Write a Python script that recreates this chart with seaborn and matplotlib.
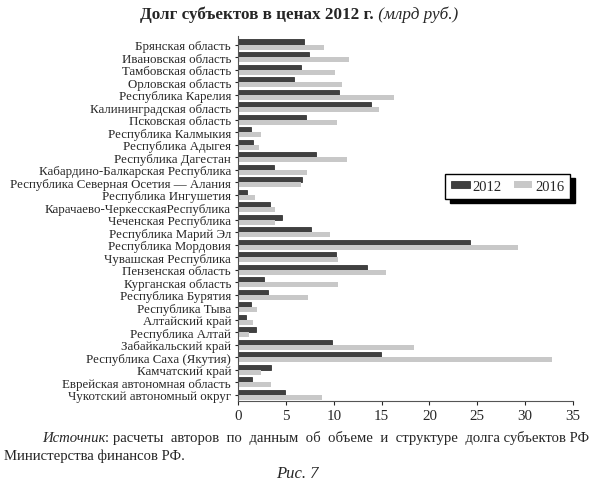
import pandas as pd
import matplotlib.pyplot as plt
import seaborn as sns
from matplotlib.patches import Patch

# Регионы (сверху вниз) и долг в ценах 2012 г., млрд руб.
regions = [
    'Брянская область', 'Ивановская область', 'Тамбовская область', 'Орловская область',
    'Республика Карелия', 'Калининградская область', 'Псковская область',
    'Республика Калмыкия', 'Республика Адыгея', 'Республика Дагестан',
    'Кабардино-Балкарская Республика', 'Республика Северная Осетия — Алания',
    'Республика Ингушетия', 'Карачаево-ЧеркесскаяРеспублика', 'Чеченская Республика',
    'Республика Марий Эл', 'Республика Мордовия', 'Чувашская Республика',
    'Пензенская область', 'Курганская область', 'Республика Бурятия', 'Республика Тыва',
    'Алтайский край', 'Республика Алтай', 'Забайкальский край', 'Республика Саха (Якутия)',
    'Камчатский край', 'Еврейская автономная область', 'Чукотский автономный округ',
]
debt_2012 = [6.9, 7.4, 6.6, 5.9, 10.6, 13.9, 7.1, 1.4, 1.6, 8.1,
             3.8, 6.7, 0.9, 3.3, 4.6, 7.6, 24.2, 10.2, 13.5, 2.7,
             3.1, 1.4, 0.8, 1.9, 9.8, 14.9, 3.4, 1.5, 4.9]
debt_2016 = [9.0, 11.6, 10.1, 10.9, 16.3, 14.7, 10.3, 2.4, 2.2, 11.4,
             7.2, 6.6, 1.8, 3.9, 3.9, 9.6, 29.3, 10.4, 15.5, 10.5,
             7.3, 2.0, 1.6, 1.2, 18.4, 32.8, 2.4, 3.4, 8.8]
years = ['2012', '2016']
colors = ['#404040', '#c8c8c8']

df = pd.DataFrame({
    'Регион': regions * 2,
    'Год': [years[0]] * len(regions) + [years[1]] * len(regions),
    'Долг': debt_2012 + debt_2016,
})

sns.set_style('white')
plt.rcParams['font.family'] = ['Liberation Serif', 'DejaVu Serif']

fig = plt.figure(figsize=(5.95, 4.85), dpi=100)
ax = fig.add_axes([0.4, 0.171, 0.563, 0.753])

sns.barplot(data=df, y='Регион', x='Долг', hue='Год', orient='h',
            palette=colors, width=0.82, ax=ax, legend=False,
            edgecolor='none')
# у тёмных столбцов тонкая обводка
for bar in ax.patches[:len(regions)]:
    bar.set_edgecolor('#222222')
    bar.set_linewidth(0.5)

ax.set_xlim(0, 35)
ax.set_ylim(len(regions) - 0.5, -0.7)
ax.set_xticks(range(0, 36, 5))
ax.set_xlabel('')
ax.set_ylabel('')
sns.despine(ax=ax)
ax.spines['left'].set_color('#555555')
ax.spines['bottom'].set_color('#555555')
ax.tick_params(axis='y', labelsize=9.3, length=2, left=True, pad=3)
ax.tick_params(axis='x', labelsize=10.8, length=3, bottom=True, pad=3)

handles = [Patch(facecolor=colors[0], edgecolor='#222222', linewidth=0.5),
           Patch(facecolor=colors[1], edgecolor='none')]
leg = ax.legend(handles, years, loc='upper left', bbox_to_anchor=(0.618, 0.622),
                borderaxespad=0, ncol=2, fontsize=10.5, frameon=True, fancybox=False,
                edgecolor='black',
                shadow={'color': 'black', 'alpha': 1, 'ox': 3.6, 'oy': -3.0},
                handlelength=1.3, handleheight=0.45, handletextpad=0.2,
                columnspacing=0.8, borderpad=0.4)
leg.get_frame().set_linewidth(1.0)

# Заголовок: жирная часть + курсив
t = fig.text(140 / 595, 1 - 15 / 485, 'Долг субъектов в ценах 2012 г.',
             fontsize=12.3, fontweight='bold', ha='left', va='center')
ax.annotate(' (млрд руб.)', xy=(1, 0), xycoords=t, fontsize=12.3, style='italic',
            ha='left', va='bottom', annotation_clip=False)

# Подпись источника (первая строка растянута по ширине лишними пробелами)
s = fig.text(42 / 595, 1 - 439 / 485, 'Источник', fontsize=10.6, style='italic',
             ha='left', va='center')
ax.annotate(': расчеты  авторов  по  данным  об  объеме  и  структуре  долга субъектов РФ',
            xy=(1, 0), xycoords=s, fontsize=10.6, ha='left', va='bottom',
            annotation_clip=False)
fig.text(4 / 595, 1 - 456 / 485, 'Министерства финансов РФ.', fontsize=10.6,
         ha='left', va='center')
fig.text(297 / 595, 1 - 474 / 485, 'Рис. 7', fontsize=12, style='italic',
         ha='center', va='center')

fig.savefig('out.png', dpi=100)
